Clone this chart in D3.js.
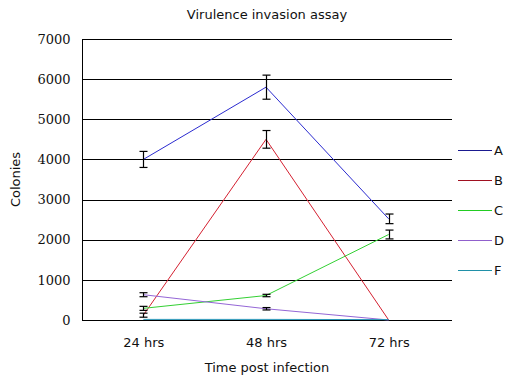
<!DOCTYPE html>
<html><head><meta charset="utf-8">
<script src="https://cdn.jsdelivr.net/npm/d3@7"></script>
<style>body{margin:0;background:#fff}svg{display:block}</style>
</head><body>
<svg id="chart" width="515" height="387"></svg>
<script>
const categories = ["24 hrs", "48 hrs", "72 hrs"];
const yTicks = [0, 1000, 2000, 3000, 4000, 5000, 6000, 7000];
const seriesNames = ["A", "B", "C", "D", "F"];
const valuesA = [4000, 5800, 2520];
const valuesB = [120, 4500, 0];
const valuesC = [290, 610, 2130];
const valuesD = [630, 280, 0];
const valuesF = [15, 15, 10];
const errorsA = [200, 300, 120];
const errorsB = [50, 220, 0];
const errorsC = [50, 30, 110];
const errorsD = [50, 30, 0];
const errorsF = [0, 0, 0];
const colors = ["#2b2bd0", "#d42030", "#33d033", "#9466d6", "#2a96b8"];
const legendColors = ["#1a1a90", "#a01020", "#22cc22", "#9060cc", "#2090a8"];

const series = [
  {name: "A", values: valuesA, errors: errorsA},
  {name: "B", values: valuesB, errors: errorsB},
  {name: "C", values: valuesC, errors: errorsC},
  {name: "D", values: valuesD, errors: errorsD},
  {name: "F", values: valuesF, errors: errorsF}
];

const svg = d3.select("#chart");
const pLeft = 82, pRight = 452, pTop = 39, pBottom = 320;

const x = d3.scalePoint().domain(categories).range([pLeft, pRight - 2]).padding(0.5);
const y = d3.scaleLinear().domain([0, 7000]).range([pBottom, pTop]);
const py = v => Math.round(y(v)) + 0.5;

// title
svg.append("text").attr("x", (pLeft + pRight) / 2).attr("y", 19)
  .attr("text-anchor", "middle").attr("font-family", "DejaVu Sans")
  .attr("font-size", 13).attr("fill", "#111").text("Virulence invasion assay");

// gridlines
svg.append("g").selectAll("line").data(yTicks).join("line")
  .attr("x1", pLeft).attr("x2", pRight)
  .attr("y1", d => py(d)).attr("y2", d => py(d))
  .attr("stroke", "#000").attr("stroke-width", 1);

// y axis
const yAxis = d3.axisLeft(y).tickValues(yTicks).tickSize(0).tickPadding(12).tickFormat(d3.format("d"));
const gy = svg.append("g").attr("transform", `translate(${pLeft + 0.5},0)`).call(yAxis);
gy.select(".domain").attr("stroke", "#000").attr("d", `M0,${py(7000)}V${py(0)}`);
gy.selectAll("text").attr("font-family", "DejaVu Serif").attr("font-size", 13).attr("fill", "#111");

// x axis
const xAxis = d3.axisBottom(x).tickSize(0).tickPadding(17);
const gx = svg.append("g").attr("transform", `translate(0,${py(0)})`).call(xAxis);
gx.select(".domain").remove();
gx.selectAll("text").attr("font-family", "DejaVu Sans").attr("font-size", 13).attr("fill", "#111");

// axis titles
svg.append("text").attr("x", (pLeft + pRight) / 2).attr("y", 372)
  .attr("text-anchor", "middle").attr("font-family", "DejaVu Sans")
  .attr("font-size", 13).attr("fill", "#111").text("Time post infection");
svg.append("text").attr("transform", `translate(20,${(pTop + pBottom) / 2}) rotate(-90)`)
  .attr("text-anchor", "middle").attr("font-family", "DejaVu Sans")
  .attr("font-size", 13).attr("fill", "#111").text("Colonies");

// lines
const line = d3.line().x((d, i) => x(categories[i])).y(d => y(d));
svg.append("g").selectAll("path").data(series).join("path")
  .attr("d", s => line(s.values)).attr("fill", "none")
  .attr("stroke", (s, i) => colors[i]).attr("stroke-width", 1);

// error bars
const eg = svg.append("g").attr("stroke", "#000").attr("stroke-width", 1.2);
series.forEach(s => {
  s.values.forEach((v, i) => {
    const e = s.errors[i];
    if (!e) return;
    const cx = Math.round(x(categories[i])) + 0.5;
    const y1 = y(v + e), y2 = y(v - e);
    eg.append("line").attr("x1", cx).attr("x2", cx).attr("y1", y1).attr("y2", y2);
    eg.append("line").attr("x1", cx - 4).attr("x2", cx + 4).attr("y1", y1).attr("y2", y1);
    eg.append("line").attr("x1", cx - 4).attr("x2", cx + 4).attr("y1", y2).attr("y2", y2);
  });
});

// legend
const lg = svg.append("g").selectAll("g").data(seriesNames).join("g")
  .attr("transform", (d, i) => `translate(458,${150 + i * 30})`);
lg.append("line").attr("x1", 0).attr("x2", 34).attr("y1", 0.5).attr("y2", 0.5)
  .attr("stroke", (d, i) => legendColors[i]).attr("stroke-width", 1);
lg.append("text").attr("x", 36).attr("y", 5).attr("font-family", "DejaVu Sans")
  .attr("font-size", 13).attr("fill", "#111").text(d => d);
</script>
</body></html>
